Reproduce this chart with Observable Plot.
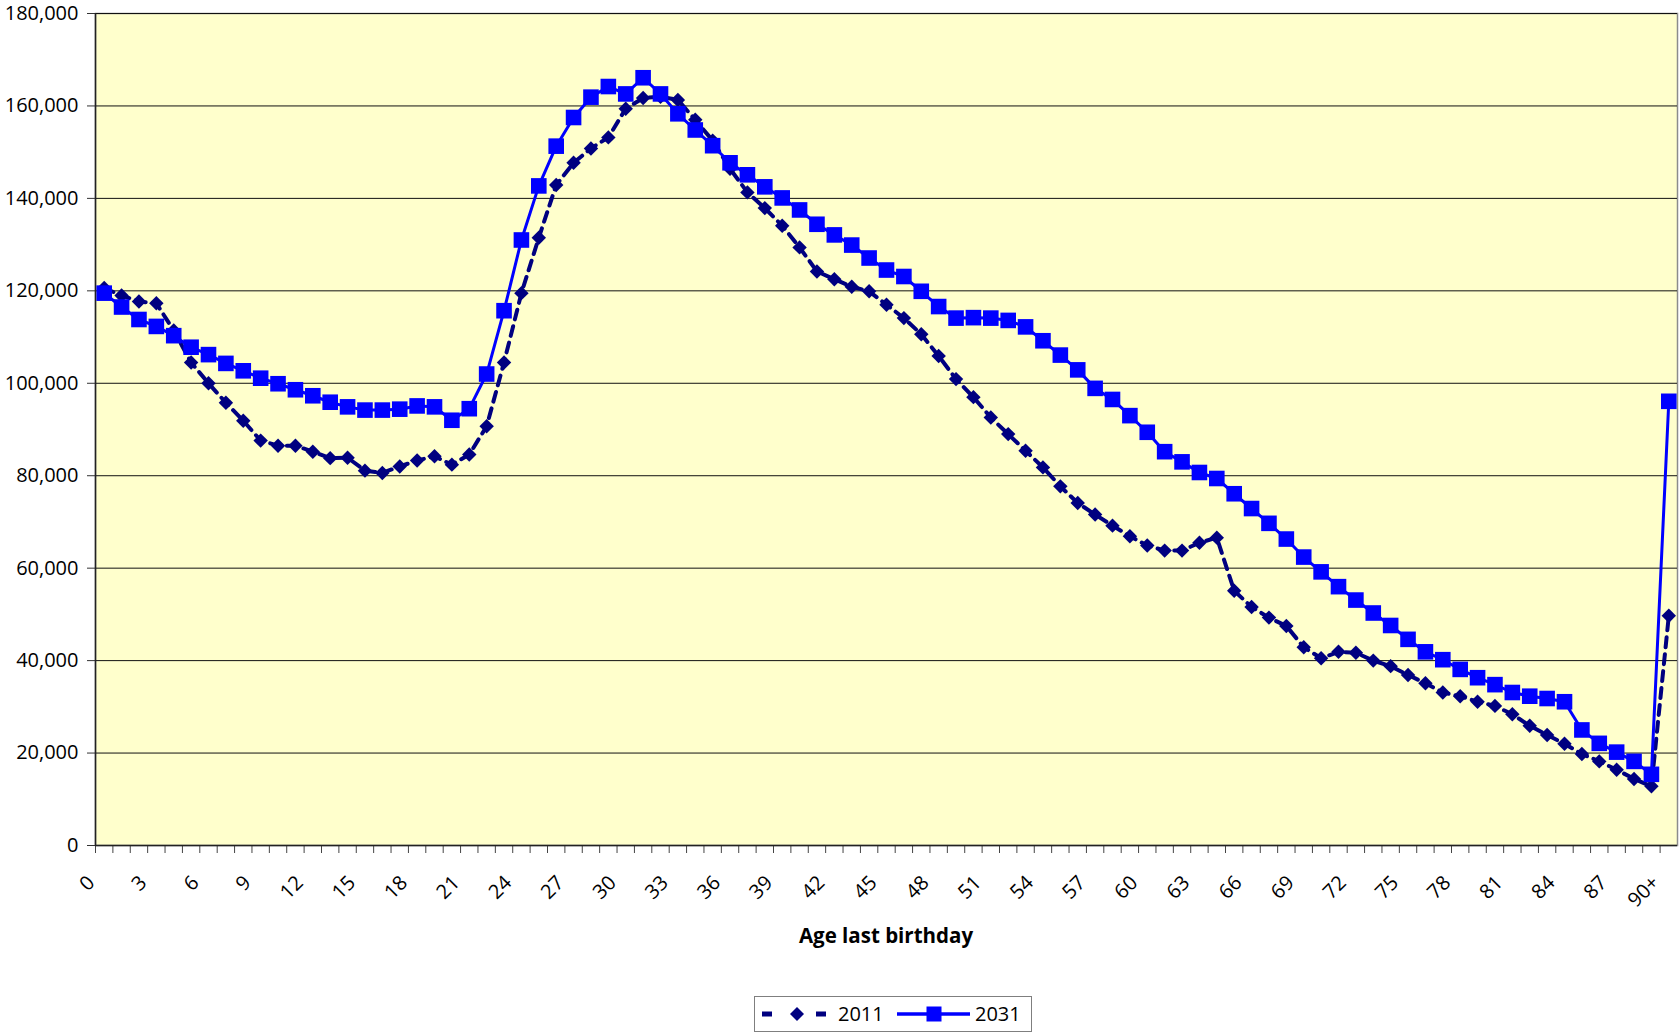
<!DOCTYPE html>
<html><head><meta charset="utf-8">
<script src="https://cdn.jsdelivr.net/npm/d3@7"></script>
<script src="https://cdn.jsdelivr.net/npm/@observablehq/plot@0.6"></script>
<style>
body{margin:0;background:#fff;font-family:"Open Sans",sans-serif;}
#wrap{position:relative;width:1679px;height:1033px;overflow:hidden;}
#chart{position:absolute;left:0;top:0;}
#xtitle{position:absolute;left:786px;width:200px;top:922px;line-height:26px;text-align:center;font-weight:bold;font-size:20.5px;color:#000;white-space:nowrap;}
#legend{position:absolute;left:754px;top:996px;}
</style></head>
<body><div id="wrap"><div id="chart"></div><div id="xtitle">Age last birthday</div><div id="legend"></div></div>
<script>
const ages = ["0","1","2","3","4","5","6","7","8","9","10","11","12","13","14","15","16","17","18","19",
"20","21","22","23","24","25","26","27","28","29","30","31","32","33","34","35","36","37","38","39",
"40","41","42","43","44","45","46","47","48","49","50","51","52","53","54","55","56","57","58","59",
"60","61","62","63","64","65","66","67","68","69","70","71","72","73","74","75","76","77","78","79",
"80","81","82","83","84","85","86","87","88","89","90+"];

const pop2011 = [120600,119000,117700,117300,111400,104500,100000,95800,91900,87600,
86500,86500,85200,83800,83900,81100,80600,82000,83300,84200,
82400,84600,90700,104500,119500,131500,142900,147700,150800,153200,
159400,161700,162000,161300,157000,152500,146400,141300,137900,134100,
129400,124200,122500,120900,119900,117000,114100,110600,105900,100900,
97000,92600,89000,85400,81800,77700,74100,71600,69200,66900,
64900,63800,63800,65500,66600,55100,51600,49300,47500,42900,
40500,41900,41700,40000,38800,36900,35100,33100,32300,31100,
30200,28400,25900,23900,22000,19800,18200,16400,14400,12800,49700];

const pop2031 = [119500,116500,113800,112300,110300,107800,106200,104300,102700,101100,
99900,98600,97300,95900,94900,94200,94200,94400,95100,94900,
92000,94500,102000,115700,131000,142700,151300,157500,161900,164200,
162600,166100,162600,158300,154800,151400,147700,145100,142500,140100,
137500,134400,132100,129900,127100,124500,123100,119900,116600,114100,
114200,114100,113600,112200,109200,106100,102900,98900,96500,93000,
89400,85200,83000,80700,79400,76100,72900,69700,66300,62400,
59200,56000,53100,50300,47600,44600,41900,40200,38100,36300,
34800,33100,32300,31800,31100,25000,22100,20200,18200,15400,96100];

const yTicks = [0,20000,40000,60000,80000,100000,120000,140000,160000,180000];
const xLabelTicks = ["0","3","6","9","12","15","18","21","24","27","30","33","36","39","42","45",
"48","51","54","57","60","63","66","69","72","75","78","81","84","87","90+"];
const seriesNames = ["2011","2031"];
const seriesColors = ["#000080","#0000FF"];

const W = 1679, H = 915, ML = 95, MR = 2, MT = 13, MB = 70;
const step = (W - ML - MR) / ages.length;

const rows2011 = ages.map((a, i) => ({age: a, value: pop2011[i]}));
const rows2031 = ages.map((a, i) => ({age: a, value: pop2031[i]}));

const chart = Plot.plot({
  width: W, height: H,
  marginLeft: ML, marginRight: MR, marginTop: MT, marginBottom: MB,
  style: {fontFamily: "'Open Sans', sans-serif", fontSize: "20px", color: "#000", background: "#fff", overflow: "visible"},
  x: {type: "point", domain: ages, padding: 0.5, label: null},
  y: {domain: [0, 180000], label: null},
  marks: [
    Plot.frame({fill: "#FFFFCC", stroke: "#8c8c8c", strokeWidth: 1.5}),
    Plot.gridY(yTicks, {stroke: "#111", strokeOpacity: 1, strokeWidth: 1}),
    Plot.axisY(yTicks, {tickSize: 8, tickPadding: 9, tickFormat: d3.format(","), fontSize: 20, stroke: "#333"}),
    Plot.axisX(ages, {tickSize: 8, tickFormat: () => "", dx: -step / 2, stroke: "#444"}),
    Plot.axisX(xLabelTicks, {tickSize: 0, tickRotate: -45, tickPadding: 12, fontSize: 20, textAnchor: "end", dx: -13, dy: 22}),
    Plot.ruleY([0], {stroke: "#222", strokeWidth: 1.5}),
    Plot.ruleX([ages[0]], {dx: -step / 2, stroke: "#222", strokeWidth: 1.5}),
    Plot.line(rows2011, {x: "age", y: "value", stroke: seriesColors[0], strokeWidth: 4, strokeDasharray: "10,7"}),
    Plot.dot(rows2011, {x: "age", y: "value", symbol: "diamond2", r: 6.5, fill: seriesColors[0], stroke: null}),
    Plot.line(rows2031, {x: "age", y: "value", stroke: seriesColors[1], strokeWidth: 3}),
    Plot.dot(rows2031, {x: "age", y: "value", symbol: "square", r: 8.8, fill: seriesColors[1], stroke: null})
  ]
});
document.getElementById("chart").appendChild(chart);

// legend
const lg = d3.select("#legend").append("svg").attr("width", 278).attr("height", 36)
  .style("font-family", "'Open Sans', sans-serif");
lg.append("rect").attr("x", 0.5).attr("y", 0.5).attr("width", 277).attr("height", 35)
  .attr("fill", "#fff").attr("stroke", "#7f7f7f").attr("stroke-width", 1);
lg.append("rect").attr("x", 8).attr("y", 15.5).attr("width", 10).attr("height", 5).attr("fill", seriesColors[0]);
lg.append("rect").attr("x", 62).attr("y", 15.5).attr("width", 10).attr("height", 5).attr("fill", seriesColors[0]);
lg.append("path").attr("d", d3.symbol(d3.symbolDiamond2, Math.PI * 6.3 * 6.3)()).attr("transform", "translate(43,18)").attr("fill", seriesColors[0]);
lg.append("text").attr("x", 84).attr("y", 25).attr("font-size", 20).text(seriesNames[0]);
lg.append("line").attr("x1", 143).attr("x2", 216).attr("y1", 18).attr("y2", 18).attr("stroke", seriesColors[1]).attr("stroke-width", 3.5);
lg.append("rect").attr("x", 172.5).attr("y", 10.5).attr("width", 15).attr("height", 15).attr("fill", seriesColors[1]);
lg.append("text").attr("x", 221).attr("y", 25).attr("font-size", 20).text(seriesNames[1]);
</script>
</body></html>
